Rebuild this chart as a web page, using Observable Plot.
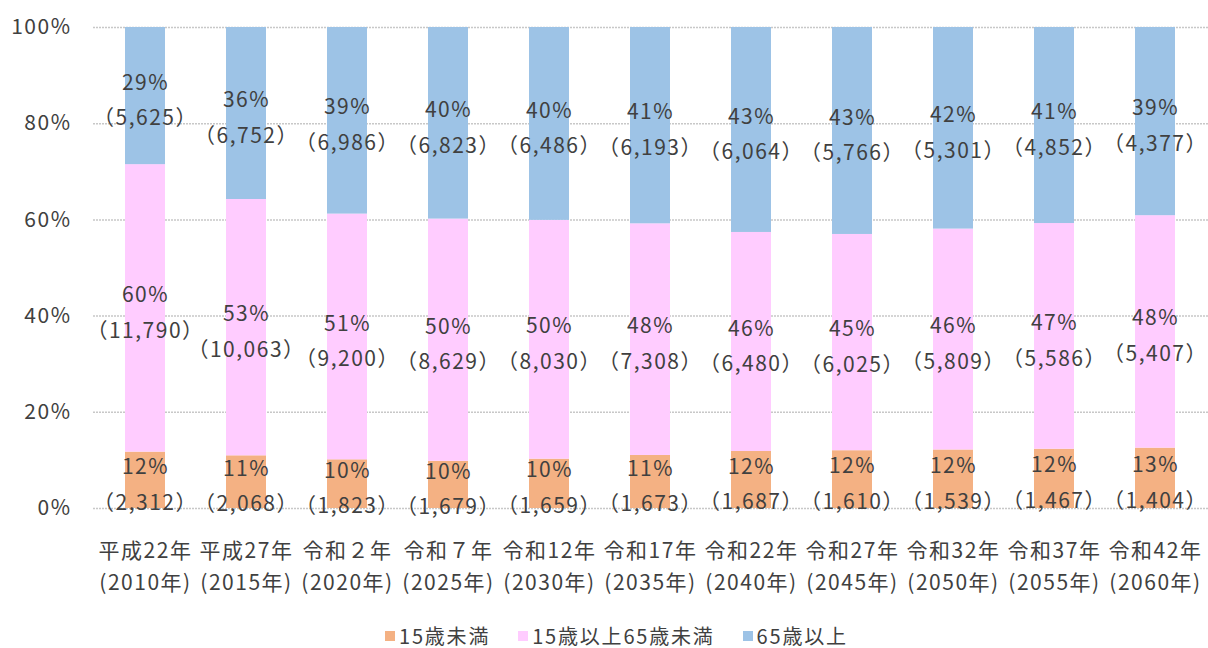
<!DOCTYPE html>
<html><head><meta charset="utf-8">
<script src="https://cdn.jsdelivr.net/npm/d3@7"></script>
<script src="https://cdn.jsdelivr.net/npm/@observablehq/plot@0.6"></script>
<style>
body{margin:0;background:#fff;font-family:"Noto Sans CJK JP",sans-serif;color:#404040;}
#wrap{position:relative;width:1208px;height:648px;}
#chart svg text{letter-spacing:1.5px;}
#legend{position:absolute;top:626px;left:385px;display:flex;align-items:center;font-size:20px;letter-spacing:1.8px;white-space:nowrap;line-height:20px;height:20px;}
.item{display:flex;align-items:center;margin-right:28px}
.sw{width:10px;height:10px;margin-right:4px}
</style></head><body><div id="wrap"><div id="chart"></div><div id="legend"></div></div>
<script>
const eraLabels = ["平成22年","平成27年","令和２年","令和７年","令和12年","令和17年","令和22年","令和27年","令和32年","令和37年","令和42年"];
const yearLabels = ["(2010年)","(2015年)","(2020年)","(2025年)","(2030年)","(2035年)","(2040年)","(2045年)","(2050年)","(2055年)","(2060年)"];
const groups = ["15歳未満","15歳以上65歳未満","65歳以上"];
const colors = ["#F4B183","#FFCCFF","#9DC3E6"];
const under15 = [2312,2068,1823,1679,1659,1673,1687,1610,1539,1467,1404];
const age15to64 = [11790,10063,9200,8629,8030,7308,6480,6025,5809,5586,5407];
const over65 = [5625,6752,6986,6823,6486,6193,6064,5766,5301,4852,4377];
const pctUnder15 = [12,11,10,10,10,11,12,12,12,12,13];
const pct15to64 = [60,53,51,50,50,48,46,45,46,47,48];
const pctOver65 = [29,36,39,40,40,41,43,43,42,41,39];
const yTicks = [0,0.2,0.4,0.6,0.8,1];

const seriesValues = [under15, age15to64, over65];
const seriesPct = [pctUnder15, pct15to64, pctOver65];
const data = [];
eraLabels.forEach((era, i) => {
  groups.forEach((g, j) => {
    data.push({year: era, group: g, value: seriesValues[j][i], pct: seriesPct[j][i]});
  });
});
const fmt = d3.format(",");

const chart = Plot.plot({
  width: 1208,
  height: 615,
  marginLeft: 93,
  marginRight: 0,
  marginTop: 27,
  marginBottom: 107,
  style: {fontFamily: '"Noto Sans CJK JP", sans-serif', color: "#404040", background: "#fff", overflow: "visible"},
  x: {domain: eraLabels, paddingInner: 0.6, paddingOuter: 0.3},
  y: {domain: [0, 1]},
  color: {domain: groups, range: colors},
  marks: [
    Plot.ruleY(yTicks, {stroke: "#c8c8c8", strokeWidth: 1.5, strokeDasharray: "2 1"}),
    Plot.barY(data, Plot.stackY({x: "year", y: "value", z: "group", fill: "group", offset: "normalize"})),
    Plot.text(data, Plot.stackY({
      x: "year", y: "value", z: "group", offset: "normalize",
      text: d => `${d.pct}%\n（${fmt(d.value)}）`,
      fontSize: 21, lineHeight: 1.7, fill: "#404040"
    })),
    Plot.axisY({ticks: yTicks, tickFormat: d => `${Math.round(d * 100)}%`, tickSize: 0, tickPadding: 22, fontSize: 21, label: null}),
    Plot.axisX({tickSize: 0, tickPadding: 26, fontSize: 21, lineHeight: 1.55, label: null,
      tickFormat: d => `${d}\n${yearLabels[eraLabels.indexOf(d)]}`})
  ]
});
document.getElementById("chart").appendChild(chart);

const legend = document.getElementById("legend");
groups.forEach((g, j) => {
  const item = document.createElement("div");
  item.className = "item";
  const sw = document.createElement("span");
  sw.className = "sw";
  sw.style.background = colors[j];
  const t = document.createElement("span");
  t.textContent = g;
  item.appendChild(sw); item.appendChild(t);
  legend.appendChild(item);
});
</script>
</body></html>
